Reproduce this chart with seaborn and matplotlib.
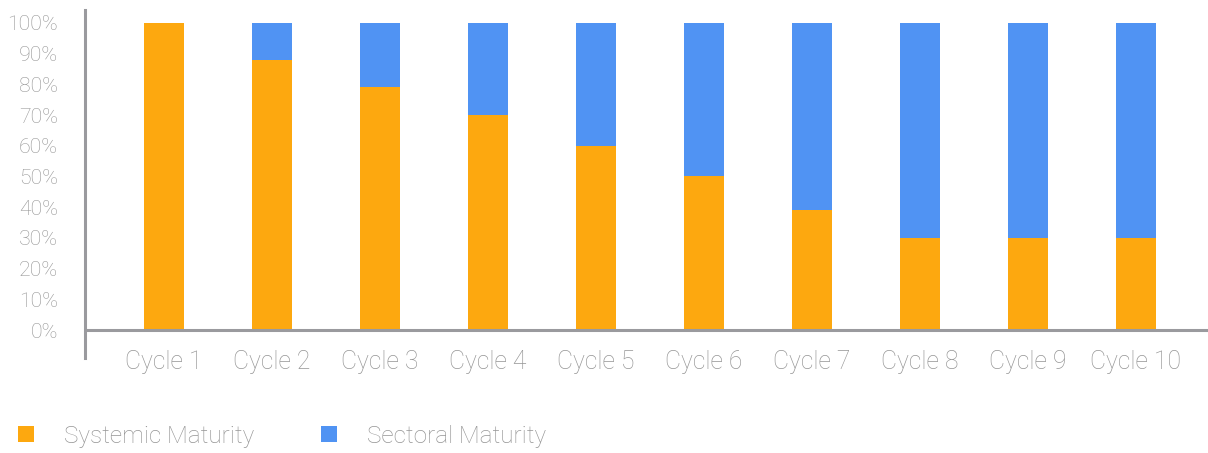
import matplotlib
matplotlib.use("Agg")
import matplotlib.pyplot as plt
import seaborn as sns
import pandas as pd
from matplotlib.patches import Patch

cycles = ["Cycle 1", "Cycle 2", "Cycle 3", "Cycle 4", "Cycle 5",
          "Cycle 6", "Cycle 7", "Cycle 8", "Cycle 9", "Cycle 10"]
systemic = [100, 88, 79, 70, 60, 50, 39, 30, 30, 30]
sectoral = [0, 12, 21, 30, 40, 50, 61, 70, 70, 70]
series_names = ["Systemic Maturity", "Sectoral Maturity"]
ytick_vals = [0, 10, 20, 30, 40, 50, 60, 70, 80, 90, 100]

ORANGE = "#FDA80F"
BLUE = "#5093F3"
GREY = "#959595"
AXIS = "#9A9A9E"

sns.set_style("white")
plt.rcParams["font.family"] = ["Roboto", "DejaVu Sans"]

df = pd.DataFrame({"cycle": cycles, "systemic": systemic, "sectoral": sectoral})
df["total"] = df["systemic"] + df["sectoral"]

fig = plt.figure(figsize=(12.08, 4.53), dpi=100)
ax = fig.add_axes([85 / 1208, 1 - 358 / 453, 1 - 85 / 1208, (358 - 10) / 453])

sns.barplot(data=df, x="cycle", y="total", color=BLUE, width=0.37,
            saturation=1, linewidth=0, ax=ax)
sns.barplot(data=df, x="cycle", y="systemic", color=ORANGE, width=0.37,
            saturation=1, linewidth=0, ax=ax)

ax.set_ylim(-9.1, 104.2)
ax.set_xlim(-0.73, 9.67)
ax.axhline(0, color=AXIS, lw=2.2, zorder=5)
for s in ["top", "right", "bottom"]:
    ax.spines[s].set_visible(False)
ax.spines["left"].set_color(AXIS)
ax.spines["left"].set_linewidth(2.2)

ax.set_yticks(ytick_vals)
ax.set_yticklabels([f"{v}%" for v in ytick_vals], fontsize=15.3,
                   color=GREY, fontweight="light")
ax.set_xticks(range(len(cycles)))
ax.set_xticklabels(cycles, fontsize=17.8, color=GREY, fontweight="light")
ax.tick_params(axis="y", length=0, pad=19.5)
ax.tick_params(axis="x", length=0, pad=-6)
ax.set_xlabel("")
ax.set_ylabel("")

handles = [Patch(facecolor=ORANGE, edgecolor="none"),
           Patch(facecolor=BLUE, edgecolor="none")]
leg = fig.legend(handles, series_names, loc="center left",
                 bbox_to_anchor=(18 / 1208, 1 - 436 / 453), ncol=2,
                 frameon=False, borderpad=0, borderaxespad=0,
                 handlelength=0.65, handleheight=0.65,
                 handletextpad=1.25, columnspacing=2.75,
                 prop={"size": 17.5, "weight": "light"})
for t in leg.get_texts():
    t.set_color(GREY)

fig.savefig("out.png", dpi=100)
